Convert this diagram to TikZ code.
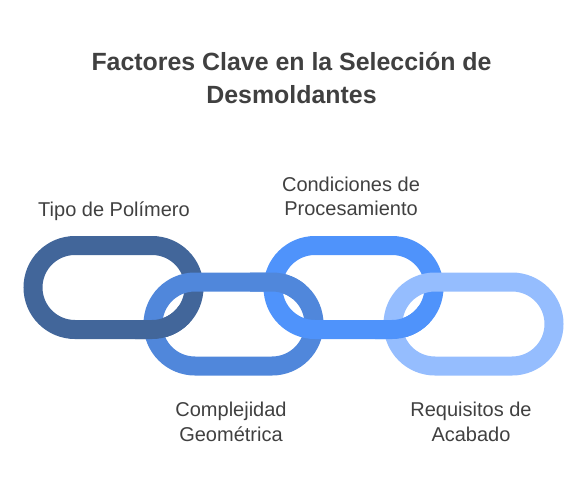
\documentclass[tikz,border=0pt]{standalone}
\usepackage{fontspec}
\setmainfont{Liberation Sans}
\definecolor{txt}{HTML}{404040}
\definecolor{linkA}{HTML}{42669A}
\definecolor{linkB}{HTML}{5087DB}
\definecolor{linkC}{HTML}{4F93FB}
\definecolor{linkD}{HTML}{95BDFE}
\tikzset{
  chainlink/.style={line width=19pt, rounded corners=42pt},
  titletext/.style={font=\fontsize{24.9}{29}\selectfont\bfseries, text=txt, anchor=base, inner sep=0pt},
  labeltext/.style={font=\fontsize{20}{24}\selectfont, text=txt, anchor=base, inner sep=0pt}
}
\newcommand{\linkat}[3]{%
  \draw[chainlink, #3] (#1-80.5,#2-42) rectangle (#1+80.5,#2+42);}
\begin{document}
\begin{tikzpicture}[x=1pt,y=-1pt]
\useasboundingbox (0,0) rectangle (588,492);
% title
\node[titletext] (title1) at (291.5,71) {Factores Clave en la Selección de};
\node[titletext] (title2) at (291.5,103) {Desmoldantes};
% links
\linkat{113.5}{287.5}{draw=linkA}
\linkat{233.5}{324}{draw=linkB}
\linkat{353.5}{287.5}{draw=linkC}
\linkat{473.5}{324}{draw=linkD}
% interlock corrections
\begin{scope}
  \clip (135,306) rectangle (190,348);
  \linkat{113.5}{287.5}{draw=linkA}
\end{scope}
\begin{scope}
  \clip (250,266) rectangle (305,298);
  \linkat{233.5}{324}{draw=linkB}
\end{scope}
\begin{scope}
  \clip (375,306) rectangle (430,348);
  \linkat{353.5}{287.5}{draw=linkC}
\end{scope}
% labels
\node[labeltext] (tipo) at (114,216) {Tipo de Polímero};
\node[labeltext] (cond1) at (351,191) {Condiciones de};
\node[labeltext] (cond2) at (351,215.5) {Procesamiento};
\node[labeltext] (comp1) at (231,416.5) {Complejidad};
\node[labeltext] (comp2) at (231,441) {Geométrica};
\node[labeltext] (req1) at (471,416.5) {Requisitos de};
\node[labeltext] (req2) at (471,441) {Acabado};
\end{tikzpicture}
\end{document}
